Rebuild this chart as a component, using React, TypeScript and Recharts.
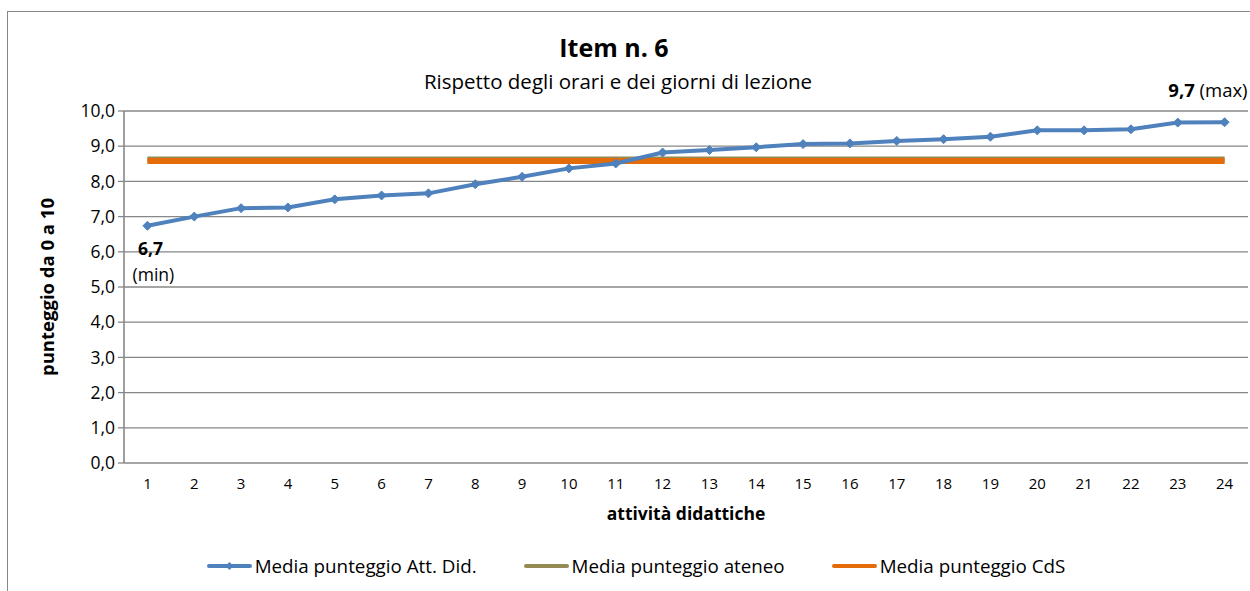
import React from "react";
import { LineChart, Line, XAxis, YAxis, CartesianGrid, Legend, Customized } from "recharts";

const categories = [1, 2, 3, 4, 5, 6, 7, 8, 9, 10, 11, 12, 13, 14, 15, 16, 17, 18, 19, 20, 21, 22, 23, 24];
const attDid = [6.74, 7.0, 7.24, 7.26, 7.49, 7.6, 7.66, 7.92, 8.13, 8.37, 8.51, 8.82, 8.89, 8.97, 9.06, 9.08, 9.15, 9.2, 9.27, 9.45, 9.45, 9.48, 9.67, 9.68];
const ateneo = 8.62;
const cds = 8.58;
const yTicks = [0, 1, 2, 3, 4, 5, 6, 7, 8, 9, 10];
const boundaryTicks = [0.5, 1.5, 2.5, 3.5, 4.5, 5.5, 6.5, 7.5, 8.5, 9.5, 10.5, 11.5, 12.5, 13.5, 14.5, 15.5, 16.5, 17.5, 18.5, 19.5, 20.5, 21.5, 22.5, 23.5, 24.5];

const data = categories.map((c, i) => ({ x: c, att: attDid[i], ateneo, cds }));

const FONT = "'Open Sans', sans-serif";
const BLUE = "#4F81BD";
const OLIVE = "#948A54";
const ORANGE = "#E36C09";
const GRID = "#878787";

const fmt = (v: number) => v.toFixed(1).replace(".", ",");

const Diamond = (props: any) => {
  const { cx, cy } = props;
  if (cx == null || cy == null) return null;
  const r = 4.5;
  return <polygon points={`${cx},${cy - r} ${cx + r},${cy} ${cx},${cy + r} ${cx - r},${cy}`} fill={BLUE} stroke={BLUE} strokeWidth={1} />;
};

const ExtremeLabel = (props: any) => {
  const { x, y, index, value } = props;
  if (index === 0) {
    return (
      <g>
        <text x={x + 3} y={y + 29} textAnchor="middle" fontFamily={FONT} fontSize={17.5} fontWeight="bold" fill="#000">{fmt(value)}</text>
        <text x={x + 6} y={y + 55} textAnchor="middle" fontFamily={FONT} fontSize={17.5} fill="#000">(min)</text>
      </g>
    );
  }
  if (index === categories.length - 1) {
    return (
      <text x={x + 23} y={y - 25} textAnchor="end" fontFamily={FONT} fontSize={18.5} fill="#000">
        <tspan fontWeight="bold">{fmt(value)}</tspan>
        <tspan> (max)</tspan>
      </text>
    );
  }
  return null;
};

const legendItems = [
  { label: "Media punteggio Att. Did.", color: BLUE, marker: true },
  { label: "Media punteggio ateneo", color: OLIVE, marker: false },
  { label: "Media punteggio CdS", color: ORANGE, marker: false },
];

const LegendContent = () => (
  <div style={{ display: "flex", justifyContent: "center", gap: 47, fontFamily: FONT, fontSize: 18.8, color: "#000", lineHeight: "24px" }}>
    {legendItems.map((it) => (
      <div key={it.label} style={{ display: "flex", alignItems: "center" }}>
        <svg width={45} height={10} style={{ marginRight: 3 }}>
          <line x1={2} y1={5} x2={43} y2={5} stroke={it.color} strokeWidth={4} strokeLinecap="round" />
          {it.marker && <polygon points="22.5,1 26.5,5 22.5,9 18.5,5" fill={it.color} />}
        </svg>
        <span>{it.label}</span>
      </div>
    ))}
  </div>
);

const Titles = () => (
  <g>
    <text x={614} y={57} textAnchor="middle" fontFamily={FONT} fontSize={25} fontWeight="bold" fill="#000">Item n. 6</text>
    <text x={618} y={89} textAnchor="middle" fontFamily={FONT} fontSize={20.5} fill="#000">Rispetto degli orari e dei giorni di lezione</text>
  </g>
);

export default function App() {
  return (
    <div style={{ position: "absolute", left: 0, top: 0, width: 1250, height: 591, background: "#fff", overflow: "hidden" }}>
      <div style={{ position: "absolute", left: 7, top: 11, width: 1260, height: 600, border: "1px solid #878787", boxSizing: "border-box" }} />
      <LineChart
        width={1250}
        height={591}
        data={data}
        margin={{ top: 111, right: 2, bottom: 0, left: 64 }}
        style={{ position: "absolute", left: 0, top: 0 }}
      >
        <Customized component={Titles} />
        <CartesianGrid vertical={false} stroke={GRID} strokeWidth={1.3} xAxisId="t" />
        <XAxis
          xAxisId="t"
          dataKey="x"
          type="number"
          domain={[0.5, 24.5]}
          ticks={boundaryTicks}
          interval={0}
          height={0}
          axisLine={{ stroke: GRID, strokeWidth: 1.6 }}
          tickLine={{ stroke: GRID, strokeWidth: 1.3 }}
          tickSize={6}
          tick={() => <g />}
        />
        <XAxis
          xAxisId="main"
          dataKey="x"
          type="number"
          domain={[0.5, 24.5]}
          ticks={categories}
          interval={0}
          height={128}
          axisLine={false}
          tickLine={false}
          tickSize={6}
          tick={{ fontFamily: FONT, fontSize: 15, fill: "#000" }}
          tickMargin={9}
          label={{ value: "attività didattiche", position: "insideTop", offset: 45, fontFamily: FONT, fontSize: 17.5, fontWeight: "bold", fill: "#000" }}
        />
        <YAxis
          domain={[0, 10]}
          ticks={yTicks}
          interval={0}
          width={60}
          tickFormatter={fmt}
          axisLine={{ stroke: GRID, strokeWidth: 1.6 }}
          tickLine={{ stroke: GRID, strokeWidth: 1.3 }}
          tickSize={6}
          tickMargin={3}
          tick={{ fontFamily: FONT, fontSize: 17.5, fill: "#000" }}
          label={{ value: "punteggio da 0 a 10", angle: -90, position: "insideLeft", offset: -17, style: { textAnchor: "middle" }, fontFamily: FONT, fontSize: 18.5, fontWeight: "bold", fill: "#000" }}
        />
        <Line xAxisId="main" dataKey="ateneo" stroke={OLIVE} strokeWidth={6} dot={false} isAnimationActive={false} legendType="none" />
        <Line xAxisId="main" dataKey="cds" stroke={ORANGE} strokeWidth={6} dot={false} isAnimationActive={false} legendType="none" />
        <Line
          xAxisId="main"
          dataKey="att"
          stroke={BLUE}
          strokeWidth={4}
          dot={<Diamond />}
          isAnimationActive={false}
          label={<ExtremeLabel />}
        />
        <Legend
          content={<LegendContent />}
          layout="horizontal"
          verticalAlign="middle"
          align="center"
          wrapperStyle={{ position: "absolute", top: 554, left: 0, width: 1272, height: 24 }}
        />
      </LineChart>
    </div>
  );
}
